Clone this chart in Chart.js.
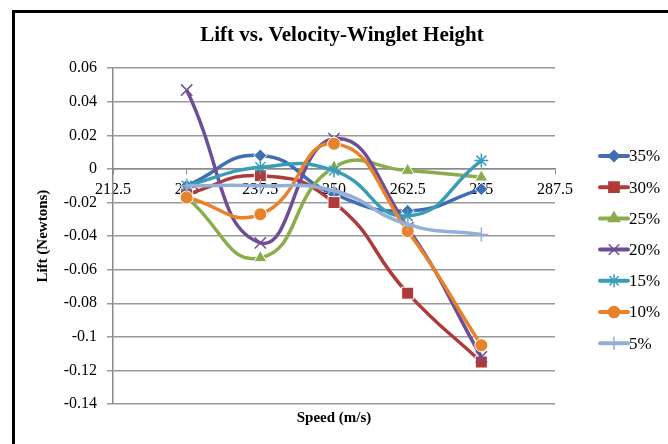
<!DOCTYPE html>
<html>
<head>
<meta charset="utf-8">
<script src="https://cdn.jsdelivr.net/npm/chart.js@4/dist/chart.umd.min.js"></script>
<style>
  html, body { margin: 0; padding: 0; background: #fff; }
  #wrap { position: relative; width: 668px; height: 444px; overflow: hidden; }
  #frame { position: absolute; left: 12px; top: 10px; width: 700px; height: 500px;
           border-left: 3px solid #000; border-top: 3px solid #000; pointer-events: none; }
</style>
</head>
<body>
<div id="wrap">
  <canvas id="chartLine" width="668" height="444"></canvas>
  <div id="frame"></div>
</div>
<script>
// speeds (m/s)
const speeds = [225, 237.5, 250, 262.5, 275];
const xTicks = [212.5, 225, 237.5, 250, 262.5, 275, 287.5];

// lift (N) per winglet height
const h35 = [-0.010, 0.008, -0.015, -0.025, -0.012];
const h30 = [-0.015, -0.004, -0.020, -0.074, -0.115];
const h25 = [-0.017, -0.053, 0.001, -0.001, -0.005];
const h20 = [0.047, -0.044, 0.018, -0.035, -0.112];
const h15 = [-0.010, 0.001, -0.001, -0.028, 0.005];
const h10 = [-0.017, -0.027, 0.015, -0.037, -0.105];
const h5  = [-0.010, -0.010, -0.013, -0.033, -0.039];

const seriesLabels = ["35%", "30%", "25%", "20%", "15%", "10%", "5%"];
const seriesData = [h35, h30, h25, h20, h15, h10, h5];
const colors = ["#3F6EB3", "#AE3B39", "#8AAD4B", "#6E4E96", "#3A9DB8", "#E8832C", "#93AFD8"];
const markers = ["rectRot", "rect", "triangle", "crossRot", "star", "circle", "cross"];
const radii = [6.5, 8.5, 7.5, 8, 7, 6.5, 7];

const serif = "'Liberation Serif', 'DejaVu Serif', serif";
const isLineMarker = (m) => m == "crossRot" || m == "star" || m == "cross";

const datasets = seriesLabels.map((lab, i) => ({
  label: lab,
  data: speeds.map((s, j) => ({ x: s, y: seriesData[i][j] })),
  borderColor: colors[i],
  backgroundColor: colors[i],
  borderWidth: 3.5,
  tension: 0.5,
  pointStyle: markers[i],
  pointRadius: radii[i],
  pointBackgroundColor: colors[i],
  pointBorderColor: isLineMarker(markers[i]) ? colors[i] : "#fff",
  pointBorderWidth: isLineMarker(markers[i]) ? 1.5 : 1,
  order: seriesLabels.length - i,
}));

// title sits a bit right of the plot centre in the original
const shiftTitle = {
  id: "shiftTitle",
  afterLayout(chart) {
    if (chart.titleBlock) {
      chart.titleBlock.left = 16;
      chart.titleBlock.right = 668;
    }
  }
};

// Excel-like legend: short line with the marker in the middle
const sideLegend = {
  id: "sideLegend",
  afterDraw(chart) {
    const ctx = chart.ctx;
    ctx.save();
    seriesLabels.forEach((lab, i) => {
      const y = 156 + i * 31.2;
      ctx.strokeStyle = colors[i];
      ctx.lineWidth = 4;
      ctx.lineCap = "round";
      ctx.beginPath();
      ctx.moveTo(600, y);
      ctx.lineTo(628, y);
      ctx.stroke();
      ctx.fillStyle = colors[i];
      ctx.lineWidth = 1.5;
      Chart.helpers.drawPoint(ctx, { pointStyle: markers[i], radius: radii[i] * 0.85, rotation: 0, borderWidth: 1.5 }, 614, y);
      ctx.fillStyle = "#000";
      ctx.font = "17px " + serif;
      ctx.textBaseline = "middle";
      ctx.fillText(lab, 629, y + 1);
    });
    ctx.restore();
  }
};

var canvas = document.getElementById("chartLine");
var chartLine = new Chart(canvas, {
  type: "line",
  data: { datasets: datasets },
  plugins: [shiftTitle, sideLegend],
  options: {
    responsive: false,
    animation: false,
    layout: { padding: 0 },
    plugins: {
      legend: { display: false },
      tooltip: { enabled: false },
      title: {
        display: true,
        text: "Lift vs. Velocity-Winglet Height",
        color: "#000",
        font: { family: serif, size: 21, weight: "bold" },
        padding: { top: 23, bottom: 20 },
      },
      subtitle: {
        display: true,
        position: "bottom",
        text: "Speed (m/s)",
        color: "#000",
        font: { family: serif, size: 15, weight: "bold" },
        padding: { top: 5, bottom: 17 },
      },
    },
    scales: {
      x: {
        type: "linear",
        position: { y: 0 },
        min: 212.5,
        max: 287.5,
        afterBuildTicks: (s) => { s.ticks = xTicks.map(v => ({ value: v })); },
        ticks: {
          color: "#000",
          font: { family: serif, size: 16 },
          padding: 6,
          maxRotation: 0,
          callback: (v) => String(v),
        },
        grid: { drawOnChartArea: false, tickLength: 5, color: "#8a8a8a", lineWidth: 1 },
        border: { color: "#8a8a8a", width: 1.5 },
      },
      y: {
        min: -0.14,
        max: 0.06,
        afterFit: (s) => { s.width = 113; },
        ticks: {
          stepSize: 0.02,
          color: "#000",
          font: { family: serif, size: 16 },
          padding: 10,
          callback: (v) => String(parseFloat(v.toFixed(2))),
        },
        grid: { color: "#999", lineWidth: 1.5, tickLength: 6 },
        border: { color: "#8a8a8a", width: 1.5 },
        title: {
          display: true,
          text: "Lift (Newtons)",
          color: "#000",
          font: { family: serif, size: 15, weight: "bold" },
          padding: { top: 34, bottom: 0 },
        },
      },
      // empty right axis keeps room for the legend
      yRight: {
        position: "right",
        min: -0.14,
        max: 0.06,
        afterFit: (s) => { s.width = 113; },
        ticks: { display: false },
        grid: { display: false },
        border: { display: false },
      },
    },
  },
});
</script>
</body>
</html>
